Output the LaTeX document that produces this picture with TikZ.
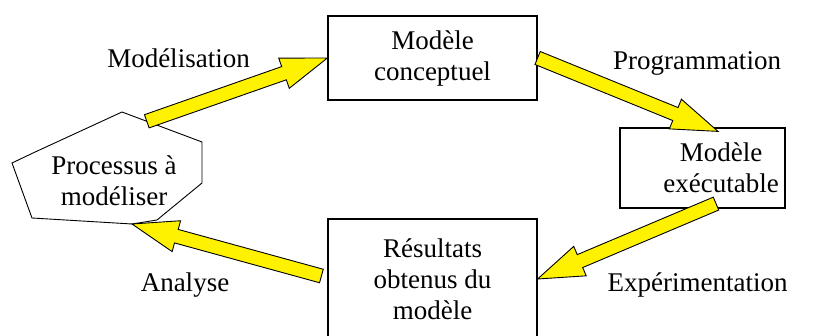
\documentclass[tikz,border=0pt]{standalone}
\usepackage{fontspec}
\setmainfont{Liberation Serif}
\newfontfamily\diagfont{Liberation Serif}
\usetikzlibrary{calc}

\begin{document}
\begin{tikzpicture}[
    x=1pt, y=-1pt,
    font=\diagfont\fontsize{27}{31}\selectfont,
    box/.style={rectangle, draw=black, line width=1.2pt, minimum width=209pt, minimum height=84pt, text centered, align=center, inner sep=0pt},
    stagename/.style={anchor=base, inner sep=0pt},
    bigarrow/.style={fill=yellow, draw=black, line width=0.9pt, line join=miter,
        to path={let \p1=(\tikztostart), \p2=(\tikztotarget),
            \p3=($(\p2)!46pt!(\p1)$) in
            ($(\p1)!7pt!90:(\p2)$) -- ($(\p3)!7pt!90:(\p2)$) -- ($(\p3)!16pt!90:(\p2)$)
            -- (\p2) -- ($(\p3)!16pt!-90:(\p2)$) -- ($(\p3)!7pt!-90:(\p2)$)
            -- ($(\p1)!7pt!-90:(\p2)$) -- cycle}}
]
\useasboundingbox (0,0) rectangle (815,336);

% process to be modelled: irregular polygon
\coordinate (p1) at (12,163);
\coordinate (p2) at (33,153);
\coordinate (p3) at (122,112);
\coordinate (p4) at (202,142);
\coordinate (p5) at (202,183);
\coordinate (p6) at (157,220);
\coordinate (p7) at (132,224);
\coordinate (p8) at (32,218);
\draw[line width=0.9pt] (p1) -- (p2) -- (p3) -- (p4) -- (p5) -- (p6) -- (p7) -- (p8) -- cycle;
\node (proc) at (114,181) [align=center, inner sep=0pt] {Processus à\\modéliser};
\coordinate (procout) at ($(p3)!0.31!(p4)$);

\node (concept) at (432.5,58) [box] {Modèle\\conceptuel};
% the text sits right of the box centre
\node (exec) at (702.5,168) [box, minimum width=165pt, minimum height=80pt] {};
\node (exectext) at (721,168) [align=center, inner sep=0pt] {Modèle\\exécutable};
\node (result) at (432.5,279) [box, minimum height=120pt] {Résultats\\obtenus du\\modèle};

\coordinate (execin) at ($(exec.north)+(15.5,4)$);
\coordinate (execout) at ($(exec.south)+(13.5,-5)$);

\draw[bigarrow] (procout) to (concept.west);
\draw[bigarrow] (concept.east) to (execin);
\draw[bigarrow] (execout) to (result.east);
\draw[bigarrow] ([xshift=-6pt,yshift=3pt]result.west) to (p7);

\node (modlab) at (178.5,68) [stagename] {Modélisation};
\node (proglab) at (697,70) [stagename] {Programmation};
\node (explab) at (697.5,292) [stagename] {Expérimentation};
\node (analab) at (185,292) [stagename] {Analyse};

\end{tikzpicture}
\end{document}
